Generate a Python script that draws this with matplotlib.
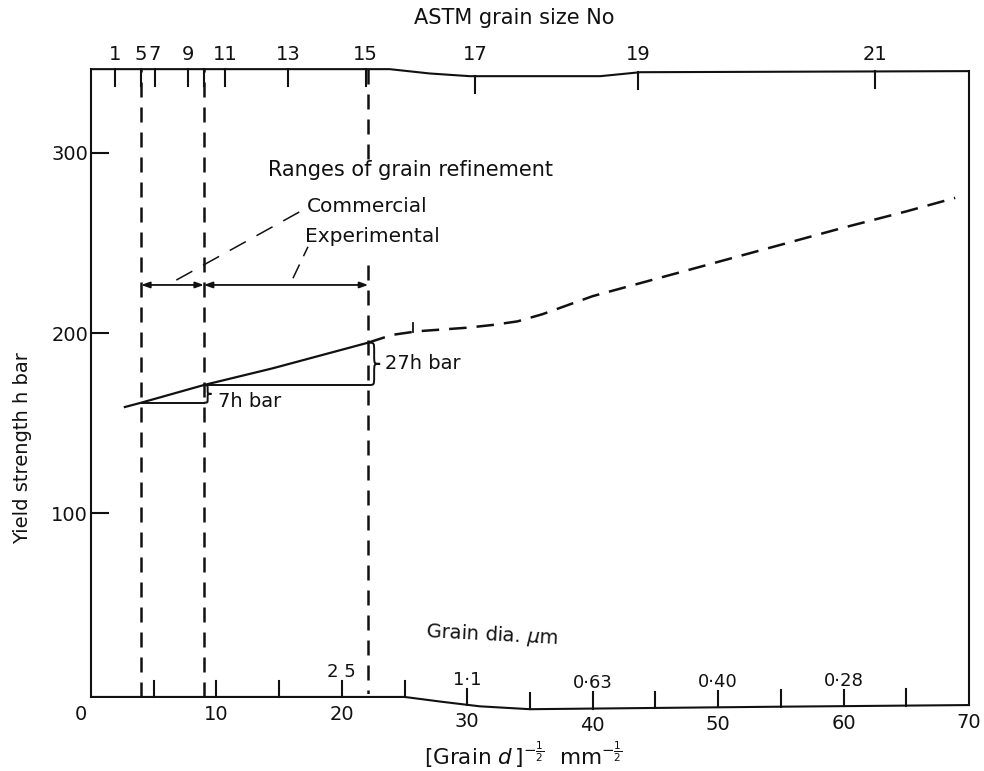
import matplotlib.pyplot as plt
import numpy as np
from matplotlib.path import Path
from matplotlib.patches import PathPatch

plt.rcParams["font.family"] = ["DejaVu Sans"]
plt.rcParams["mathtext.fontset"] = "dejavusans"

INK = "#111111"

# hand-drawn frame, slightly wavy at top and bottom
top_x = [0, 23.8, 27.0, 30.2, 40.6, 43.8, 70]
top_v = [346.4, 346.4, 344.0, 342.5, 342.5, 344.7, 345.3]
bottom_x = [0, 25, 28, 31, 35, 45, 55, 70]
bottom_v = [-1.8, -1.8, -4.5, -7.0, -8.6, -7.9, -7.2, -6.3]

# top scale: ASTM grain size number
astm_x = [1.9, 4.0, 5.1, 7.7, 9.0, 10.7, 15.7, 21.9, 30.6, 43.6, 62.5]
astm_labels = ["1", "5", "7", "9", "", "11", "13", "15", "17", "19", "21"]

# bottom scale: [grain d]^-1/2 and grain diameter
x_minor = [5, 10, 15, 20, 25, 30, 35, 40, 45, 50, 55, 60, 65]
x_major = [0, 10, 20, 30, 40, 50, 60, 70]
dia_x = [20, 30, 40, 50, 60]
dia_labels = ["2 5", "1\u00b71", "0\u00b763", "0\u00b740", "0\u00b728"]

y_ticks = [100, 200, 300]

# boundaries of the refinement ranges
bound_x = [4.0, 9.0, 22.1]

# yield strength, measured (solid) and extrapolated (dashed)
meas_x = [2.7, 4.0, 9.0, 14.5, 22.1]
meas_v = [159.0, 161.4, 171.2, 180.5, 194.7]
extr_x = [22.1, 24, 26, 28, 30, 32, 34, 36, 38, 40, 45, 50, 55, 60, 65, 68.9]
extr_v = [194.7, 199, 201, 202, 203, 204.5, 206.5, 210.5, 215.5, 220.5,
          230, 239.5, 249, 258.5, 267.5, 275]

range_v = 226.7  # level of the range arrows


def brace(ax, x, y0, y1, w):
    ym = (y0 + y1) / 2
    q = (y1 - y0) * 0.2
    xm = x + w * 0.5
    verts = [(x, y0), (xm, y0), (xm, y0), (xm, y0 + q),
             (xm, ym - q),
             (xm, ym), (xm, ym), (x + w, ym),
             (xm, ym), (xm, ym), (xm, ym + q),
             (xm, y1 - q),
             (xm, y1), (xm, y1), (x, y1)]
    codes = [Path.MOVETO, Path.CURVE4, Path.CURVE4, Path.CURVE4,
             Path.LINETO,
             Path.CURVE4, Path.CURVE4, Path.CURVE4,
             Path.CURVE4, Path.CURVE4, Path.CURVE4,
             Path.LINETO,
             Path.CURVE4, Path.CURVE4, Path.CURVE4]
    ax.add_patch(PathPatch(Path(verts, codes), fill=False, lw=1.4, color=INK))


fig = plt.figure(figsize=(9.84, 7.71), dpi=100)
ax = fig.add_axes([91 / 984, (771 - 693.7) / 771, 878 / 984, 350 * 1.803 / 771])
ax.set_xlim(0, 70)
ax.set_ylim(0, 350)
for s in ax.spines.values():
    s.set_visible(False)

# frame
ax.plot(top_x, top_v, color=INK, lw=1.5, clip_on=False)
ax.plot(bottom_x, bottom_v, color=INK, lw=1.5, clip_on=False)
ax.plot([0, 0], [bottom_v[0], top_v[0]], color=INK, lw=1.5, clip_on=False)
ax.plot([70, 70], [bottom_v[-1], top_v[-1]], color=INK, lw=1.5, clip_on=False)

# y axis
ax.set_xticks([])
ax.set_yticks(y_ticks)
ax.tick_params(axis="y", direction="in", length=13, width=1.5, pad=2,
               labelsize=14, colors=INK)

# top ASTM scale
for x, lab in zip(astm_x, astm_labels):
    yt = np.interp(x, top_x, top_v)
    ax.plot([x, x], [yt, yt - 9.4], color=INK, lw=1.5, clip_on=False)
    if lab:
        ax.text(x, 354.5, lab, ha="center", va="center", fontsize=14, color=INK)
fig.text(514 / 984, 1 - 18 / 771, "ASTM grain size No", ha="center", va="center",
         fontsize=15, color=INK)

# bottom scale
for x in x_minor:
    yb = np.interp(x, bottom_x, bottom_v)
    ax.plot([x, x], [yb, yb + 9], color=INK, lw=1.5, clip_on=False)
for x in x_major:
    yb = np.interp(x, bottom_x, bottom_v)
    ax.text(x - (0.8 if x == 0 else 0), yb - 9.5, str(x), ha="center", va="center",
            fontsize=14, color=INK)
for x, lab in zip(dia_x, dia_labels):
    yb = np.interp(x, bottom_x, bottom_v)
    ax.text(x, yb + 14, lab, ha="center", va="center", fontsize=13, color=INK)
ax.text(32, 32.6, "Grain dia. $\\mu$m", ha="center", va="center", fontsize=14,
        rotation=-3, color=INK)

fig.text(523 / 984, 1 - 755 / 771,
         r"$[\mathrm{Grain}\ d\,]^{-\frac{1}{2}}\ \ \mathrm{mm}^{-\frac{1}{2}}$",
         ha="center", va="center", fontsize=15.5, color=INK)
fig.text(23 / 984, 1 - 448 / 771, "Yield strength h bar", rotation=90,
         ha="center", va="center", fontsize=14, color=INK)

# range boundaries
ax.plot([bound_x[0]] * 2, [bottom_v[0], top_v[0]], color=INK, lw=1.8,
        dashes=(6, 4), clip_on=False)
ax.plot([bound_x[1]] * 2, [bottom_v[0], top_v[0]], color=INK, lw=1.8,
        dashes=(6, 4), clip_on=False)
ax.plot([bound_x[2]] * 2, [top_v[0], 293], color=INK, lw=1.8, dashes=(6, 4))
ax.plot([bound_x[2]] * 2, [238, bottom_v[0]], color=INK, lw=1.8, dashes=(6, 4))

# range arrows
for a, b in [(bound_x[0], bound_x[1]), (bound_x[1], bound_x[2])]:
    ax.annotate("", xy=(a, range_v), xytext=(b, range_v),
                arrowprops=dict(arrowstyle="<|-|>,head_length=0.5,head_width=0.18",
                                color=INK, lw=1.3, shrinkA=0, shrinkB=0))

ax.text(14.1, 290.4, "Ranges of grain refinement", ha="left", va="center",
        fontsize=15, color=INK)
ax.text(17.2, 270.1, "Commercial", ha="left", va="center", fontsize=14.5, color=INK)
ax.text(17.1, 253.5, "Experimental", ha="left", va="center", fontsize=14.5, color=INK)
ax.plot([6.8, 16.9], [229.4, 268.3], color=INK, lw=1.1, dashes=(12, 8))
ax.plot([16.1, 17.3], [230.4, 247.9], color=INK, lw=1.1, dashes=(10, 6))

# yield strength curve
ax.plot(meas_x, meas_v, color=INK, lw=1.6)
ax.plot(extr_x, extr_v, color=INK, lw=1.8, dashes=(7, 4))
ax.plot([25.7, 25.7], [extr_v[2] - 0.5, extr_v[2] + 4.5], color=INK, lw=1.3)

# increments
ax.plot([bound_x[0], bound_x[1]], [meas_v[1], meas_v[1]], color=INK, lw=1.4)
ax.plot([bound_x[1], bound_x[2]], [meas_v[2], meas_v[2]], color=INK, lw=1.4)
brace(ax, bound_x[1], meas_v[1], meas_v[2], 0.6)
brace(ax, bound_x[2], meas_v[2], meas_v[4], 0.95)
ax.text(10.1, 162, "7h bar", ha="left", va="center", fontsize=14, color=INK)
ax.text(23.4, 183.4, "27h bar", ha="left", va="center", fontsize=14, color=INK)

fig.savefig("out.png", dpi=100)
